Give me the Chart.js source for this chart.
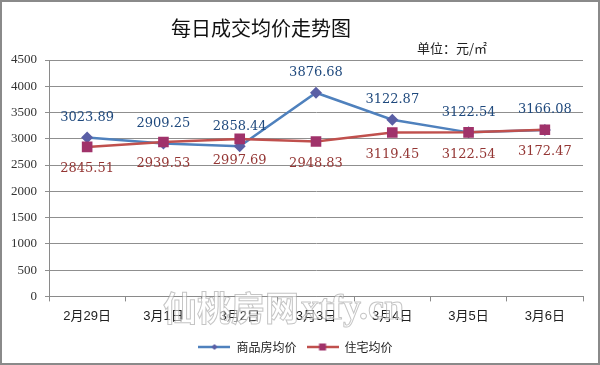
<!DOCTYPE html>
<html><head><meta charset="utf-8">
<script src="https://cdn.jsdelivr.net/npm/chart.js@4/dist/chart.umd.min.js"></script>
<style>html,body{margin:0;padding:0;background:#fff}canvas{display:block}</style>
</head><body>
<canvas id="c" width="600" height="365"></canvas>
<script>
const categories = ['2月29日','3月1日','3月2日','3月3日','3月4日','3月5日','3月6日'];
const seriesNames = ['商品房均价','住宅均价'];
const commercialValues = [3023.89, 2909.25, 2858.44, 3876.68, 3362, 3122.54, 3166.08];
const commercialLabels = ['3023.89','2909.25','2858.44','3876.68','3122.87','3122.54','3166.08'];
const residentialValues = [2845.51, 2939.53, 2997.69, 2948.83, 3119.45, 3122.54, 3172.47];
const residentialLabels = ['2845.51','2939.53','2997.69','2948.83','3119.45','3122.54','3172.47'];
const yTicks = [0,500,1000,1500,2000,2500,3000,3500,4000,4500];
const titleText = '每日成交均价走势图';
const unitText = '单位：元/㎡';
const watermarkCN = '仙桃房网';
const watermarkEN = 'xtfy.cn';

const BLUE = '#4F81BD', BLUE_M = '#5A5FA5', BLUE_T = '#1F497D';
const RED = '#C0504D', RED_M = '#A0326A', RED_T = '#943634';

function legendIcon(lineColor, markerColor, shape) {
  const c = document.createElement('canvas');
  c.width = 32; c.height = 10;
  const x = c.getContext('2d');
  x.strokeStyle = lineColor; x.lineWidth = 2.5;
  x.beginPath(); x.moveTo(0,5); x.lineTo(32,5); x.stroke();
  x.fillStyle = markerColor;
  if (shape === 'diamond') {
    x.beginPath(); x.moveTo(16,2); x.lineTo(19,5); x.lineTo(16,8); x.lineTo(13,5); x.closePath(); x.fill();
  } else {
    x.fillRect(12.5,1.5,7,7);
  }
  return c;
}
const icons = [legendIcon(BLUE, BLUE_M, 'diamond'), legendIcon(RED, RED_M, 'square')];

const framePlugin = {
  id: 'frame',
  beforeDraw(chart) {
    const ctx = chart.ctx;
    ctx.save();
    ctx.fillStyle = '#fff';
    ctx.fillRect(0,0,chart.width,chart.height);
    ctx.restore();
  },
  afterDraw(chart) {
    const ctx = chart.ctx, a = chart.chartArea;
    ctx.save();
    // title (space reserved by the title plugin)
    const tb = chart.titleBlock;
    ctx.font = '20px "Noto Sans CJK SC"';
    ctx.fillStyle = '#111';
    ctx.textAlign = 'center'; ctx.textBaseline = 'middle';
    ctx.fillText(titleText, (a.left + a.right) / 2 - 55, tb.top + 10 + 12);
    // unit text
    ctx.font = '13px "Noto Sans CJK SC"';
    ctx.fillStyle = '#222';
    ctx.textAlign = 'left'; ctx.textBaseline = 'middle';
    ctx.fillText(unitText, a.right - 166, a.top - 12);
    // data labels
    ctx.font = '13px "DejaVu Serif"';
    ctx.textAlign = 'center';
    const m0 = chart.getDatasetMeta(0), m1 = chart.getDatasetMeta(1);
    ctx.fillStyle = BLUE_T;
    m0.data.forEach((p,i)=>{ ctx.fillText(commercialLabels[i], p.x, p.y - 20); });
    ctx.fillStyle = RED_T;
    m1.data.forEach((p,i)=>{ ctx.fillText(residentialLabels[i], p.x, p.y + 22); });
    // watermark
    ctx.textAlign = 'left'; ctx.textBaseline = 'alphabetic';
    ctx.lineWidth = 1;
    ctx.strokeStyle = 'rgba(140,140,140,0.5)';
    ctx.fillStyle = 'rgba(255,255,255,0.55)';
    const wx = a.left + 114, wy = a.bottom + 25;
    ctx.font = 'bold 34px "Noto Sans CJK SC"';
    ctx.fillText(watermarkCN, wx, wy); ctx.strokeText(watermarkCN, wx, wy);
    const w1 = ctx.measureText(watermarkCN).width;
    ctx.font = 'bold 36px "Liberation Serif"';
    ctx.fillText(watermarkEN, wx + w1 + 2, wy - 2); ctx.strokeText(watermarkEN, wx + w1 + 2, wy - 2);
    // border
    ctx.strokeStyle = '#8a8a8a'; ctx.lineWidth = 2;
    ctx.strokeRect(1,1,chart.width-2,chart.height-2);
    ctx.restore();
  }
};

new Chart(document.getElementById('c'), {
  type: 'line',
  data: {
    labels: categories,
    datasets: [
      { label: seriesNames[0], data: commercialValues, borderColor: BLUE, backgroundColor: BLUE_M,
        borderWidth: 2.5, pointStyle: 'rectRot', pointRadius: 6, pointBackgroundColor: BLUE_M,
        pointBorderColor: BLUE_M, pointBorderWidth: 0, tension: 0, order: 1 },
      { label: seriesNames[1], data: residentialValues, borderColor: RED, backgroundColor: RED_M,
        borderWidth: 2.5, pointStyle: 'rect', pointRadius: 7.5, pointBackgroundColor: RED_M,
        pointBorderColor: RED_M, pointBorderWidth: 0, tension: 0, order: 0 }
    ]
  },
  options: {
    responsive: false,
    animation: false,
    events: [],
    layout: { padding: { left: 8, right: 17, top: 6, bottom: 2 } },
    plugins: {
      title: { display: true, text: titleText, color: 'rgba(0,0,0,0)',
        font: { family: '"Noto Sans CJK SC"', size: 20, weight: 'normal' },
        padding: { top: 10, bottom: 20 } },
      legend: { position: 'bottom',
        labels: { usePointStyle: true, pointStyleWidth: 32, boxHeight: 10, color: '#222',
          font: { family: '"Noto Sans CJK SC"', size: 12 }, padding: 10,
          sort: (a,b)=>a.datasetIndex-b.datasetIndex,
          generateLabels: (chart) => chart.data.datasets.map((d,i)=>({
            text: d.label, pointStyle: icons[i], fillStyle: d.borderColor, strokeStyle: d.borderColor,
            lineWidth: 0, hidden: false, datasetIndex: i, fontColor: '#222' })) } },
      tooltip: { enabled: false }
    },
    scales: {
      x: { offset: true,
        grid: { display: true, offset: true, drawOnChartArea: false, drawTicks: true, tickLength: 5, color: '#8a8a8a' },
        border: { color: '#8a8a8a' },
        ticks: { color: '#222', font: { family: '"Liberation Sans","Noto Sans CJK SC"', size: 13 }, padding: 7, maxRotation: 0 } },
      y: { min: 0, max: 4500,
        afterBuildTicks: (s)=>{ s.ticks = yTicks.map(v=>({value:v})); },
        afterFit: (s)=>{ s.width = 41; },
        grid: { color: '#8f8f8f', tickLength: 4, drawTicks: true },
        border: { color: '#8a8a8a' },
        ticks: { color: '#333', font: { family: '"Liberation Serif"', size: 13 }, padding: 8,
          callback: (v)=>String(v) } }
    }
  },
  plugins: [framePlugin]
});
</script>
</body></html>
